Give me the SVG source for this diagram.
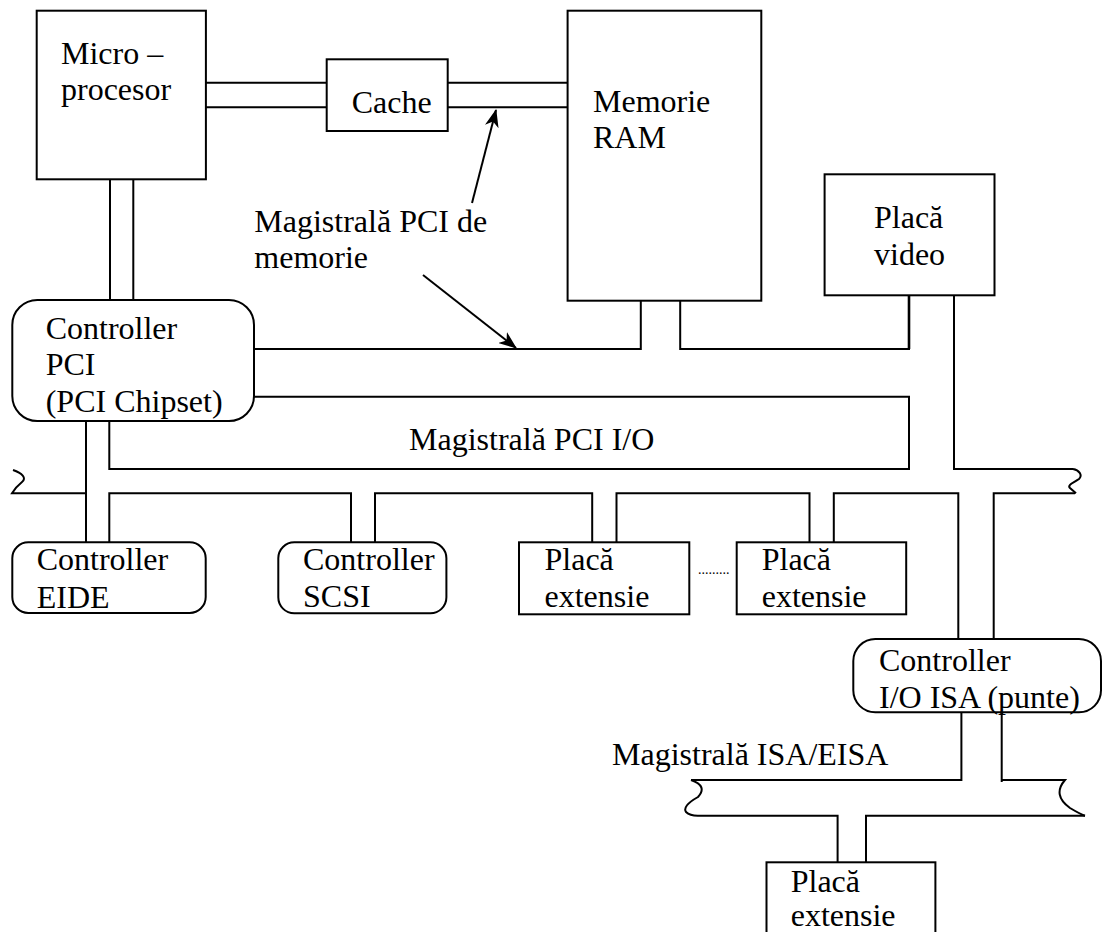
<svg xmlns="http://www.w3.org/2000/svg" width="1104" height="932" viewBox="0 0 1104 932">
<style>
.b{fill:#fff;stroke:#000;stroke-width:2}
.t{font-family:"Liberation Serif","Times New Roman",serif;font-size:32px;fill:#000}
.w{fill:none;stroke:#000;stroke-width:2}
.a{fill:none;stroke:#000;stroke-width:2}
</style>
<defs>
<marker id="ah" markerUnits="userSpaceOnUse" markerWidth="20" markerHeight="14" refX="17" refY="7" orient="auto">
<path d="M0,0 L18,7 L0,14 L5,7 z" fill="#000"/>
</marker>
</defs>
<rect width="1104" height="932" fill="#fff"/>
<g id="connectors">
<path class="w" d="M206,82.7 H327 M206,107.3 H327 M448,82.7 H568 M448,107.3 H568"/>
<path class="w" d="M110,179.3 V300 M133.3,179.3 V300"/>
<path class="w" d="M254,349 H640.8 V300.7 M680.2,296.7 V349 H910"/>
<path d="M909,292.7 V349" fill="none" stroke="#000" stroke-width="2.6"/>
<path class="w" d="M254,396.7 H909 V469 H109.3 V421"/>
<path class="w" d="M954,295.3 V469 H1073"/>
<path class="w" d="M86,421 V542.3"/>
<path class="w" d="M13,470 C22,473 27,478 22,482 C17,486 14,490 12,493.3 H86"/>
<path class="w" d="M109.3,542.3 V493.3 H351 V542.3 M375,542.3 V493.3 H592.2 V542.3 M616.5,542.3 V493.3 H809.5 V542.3 M833.8,542.3 V493.3 H958.3 V639 M993.7,639 V493.3 H1075"/>
<path class="w" d="M1073,469 C1079,470 1083,475 1079,479 C1073,483 1067,485 1070,488 L1076,493.3"/>
<path class="w" d="M961.4,712.3 V780 H691"/>
<path class="w" d="M691,780 Q708,786 698,797 Q682,806 686,812 Q690,816 699,815.7 H837.6 V862.3 M866,862.3 V815.7 H1085"/>
<path class="w" d="M1001.7,712.3 V782 M1001.7,780 H1065 Q1052,795 1070,808 Q1080,814 1085,815.7"/>
<line class="a" x1="472" y1="203" x2="496" y2="110" marker-end="url(#ah)"/>
<line class="a" x1="423" y1="275" x2="516" y2="348" marker-end="url(#ah)"/>
</g>
<g id="microprocesor">
<rect class="b" x="36.7" y="10.7" width="169.2" height="168.6"/>
<text class="t" x="61" y="64">Micro –</text>
<text class="t" x="61" y="100">procesor</text>
</g>
<g id="cache">
<rect class="b" x="326.7" y="59.3" width="121" height="71.7"/>
<text class="t" x="351.7" y="112.7">Cache</text>
</g>
<g id="memorie-ram">
<rect class="b" x="567.6" y="10.7" width="193.7" height="290"/>
<text class="t" x="593" y="111.7">Memorie</text>
<text class="t" x="593" y="148.3">RAM</text>
</g>
<g id="label-magistrala-memorie">
<text class="t" x="254.3" y="231.7">Magistrală PCI de</text>
<text class="t" x="254.3" y="268.3">memorie</text>
</g>
<g id="placa-video">
<rect class="b" x="824.6" y="174.3" width="169.9" height="121"/>
<text class="t" x="874" y="228.3">Placă</text>
<text class="t" x="874" y="265">video</text>
</g>
<g id="controller-pci">
<rect class="b" x="12.3" y="300" width="241.7" height="121" rx="25" ry="25"/>
<text class="t" x="45.7" y="339.3">Controller</text>
<text class="t" x="45.7" y="375">PCI</text>
<text class="t" x="45.7" y="411.7">(PCI Chipset)</text>
</g>
<g id="label-magistrala-pci-io">
<text class="t" x="409" y="450">Magistrală PCI I/O</text>
</g>
<g id="controller-eide">
<rect class="b" x="12.3" y="542.3" width="193.4" height="70.7" rx="16" ry="16"/>
<text class="t" x="36.7" y="570">Controller</text>
<text class="t" x="36.7" y="608.3">EIDE</text>
</g>
<g id="controller-scsi">
<rect class="b" x="278.3" y="542.3" width="168.1" height="71" rx="16" ry="16"/>
<text class="t" x="303" y="570">Controller</text>
<text class="t" x="303" y="606.7">SCSI</text>
</g>
<g id="placa-extensie-1">
<rect class="b" x="519" y="542.3" width="170.3" height="72"/>
<text class="t" x="544.5" y="570">Placă</text>
<text class="t" x="544.5" y="606.7">extensie</text>
</g>
<g id="dots">
<text x="698" y="574" style="font-family:'Liberation Serif',serif;font-size:14px">.........</text>
</g>
<g id="placa-extensie-2">
<rect class="b" x="736.7" y="542.3" width="169.5" height="72"/>
<text class="t" x="761.7" y="570">Placă</text>
<text class="t" x="761.7" y="606.7">extensie</text>
</g>
<g id="controller-isa">
<rect class="b" x="853.3" y="639" width="247.7" height="73.3" rx="22" ry="22"/>
<text class="t" x="879" y="671">Controller</text>
<text class="t" x="879" y="708.3">I/O ISA (punte)</text>
</g>
<g id="label-magistrala-isa">
<text class="t" x="612" y="765">Magistrală ISA/EISA</text>
</g>
<g id="placa-extensie-isa">
<rect class="b" x="766.5" y="862.3" width="168.9" height="80"/>
<text class="t" x="790.7" y="891.7">Placă</text>
<text class="t" x="790.7" y="926">extensie</text>
</g>
</svg>
